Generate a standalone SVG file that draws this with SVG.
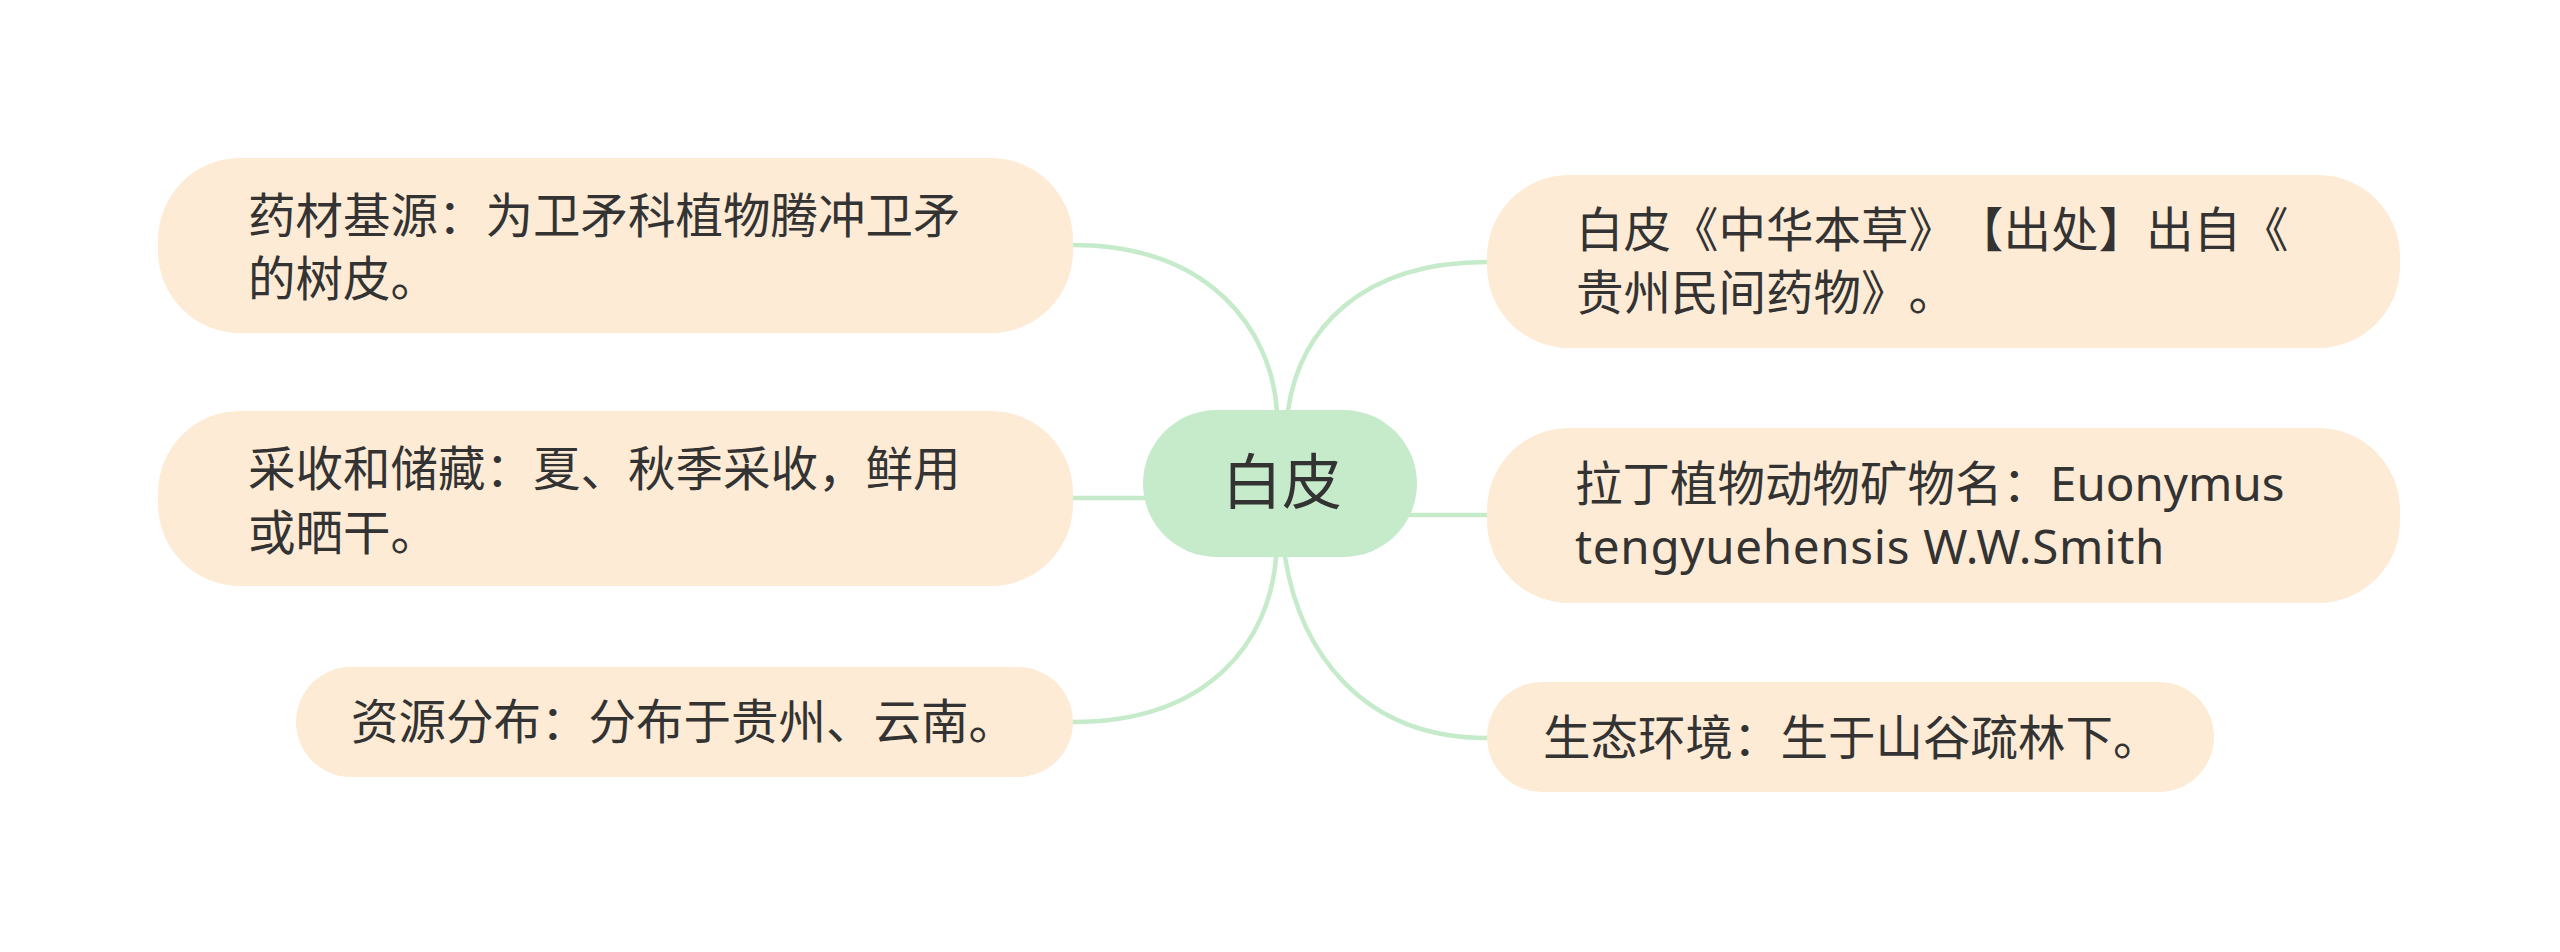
<svg xmlns="http://www.w3.org/2000/svg" width="2560" height="952" viewBox="0 0 2560 952">
<style>
.bg{fill:#ffffff}
.node rect{fill:#fdebd5}
.root rect{fill:#c6ebcb}
text{font-family:"Noto Sans","Noto Sans CJK SC",sans-serif;fill:#333333;text-spacing-trim:space-all;font-feature-settings:"halt" 0,"chws" 0}
.t{font-size:47.5px}
.rt{font-size:60px}
.conn path{fill:none;stroke:#c6ebcb;stroke-width:4.5;stroke-linecap:round}
</style>
<rect class="bg" x="0" y="0" width="2560" height="952"/>
<g id="connectors" class="conn">
<path d="M1277 430 L1277 412 C1272 330 1210 245 1073 245"/>
<path d="M1150 498 L1073 498"/>
<path d="M1276 540 L1276 557 C1270 640 1210 722 1073 722"/>
<path d="M1288 430 L1288 410 C1300 330 1360 262 1487 262"/>
<path d="M1410 515 L1487 515"/>
<path d="M1285 540 L1285 557 C1300 650 1360 738 1487 738"/>
</g>
<g id="root" class="root">
<rect x="1143" y="410" width="274" height="147" rx="73.5"/>
<text class="rt" x="1282" y="504" text-anchor="middle">白皮</text>
</g>
<g id="n1" class="node">
<rect x="158" y="158" width="915" height="175" rx="82"/>
<text class="t" x="248" y="233">药材基源：为卫矛科植物腾冲卫矛</text>
<text class="t" x="248" y="296">的树皮。</text>
</g>
<g id="n2" class="node">
<rect x="158" y="411" width="915" height="175" rx="82"/>
<text class="t" x="248" y="486">采收和储藏：夏、秋季采收，鲜用</text>
<text class="t" x="248" y="550">或晒干。</text>
</g>
<g id="n3" class="node">
<rect x="296" y="667" width="777" height="110" rx="55"/>
<text class="t" x="351" y="739">资源分布：分布于贵州、云南。</text>
</g>
<g id="r1" class="node">
<rect x="1487" y="175" width="913" height="173" rx="82"/>
<text class="t" x="1576" y="247">白皮《中华本草》【出处】出自《</text>
<text class="t" x="1576" y="310">贵州民间药物》。</text>
</g>
<g id="r2" class="node">
<rect x="1487" y="428" width="913" height="175" rx="82"/>
<text class="t" x="1575" y="501">拉丁植物动物矿物名：Euonymus</text>
<text class="t" x="1575" y="564" letter-spacing="0.7">tengyuehensis W.W.Smith</text>
</g>
<g id="r3" class="node">
<rect x="1487" y="682" width="727" height="110" rx="55"/>
<text class="t" x="1543" y="755">生态环境：生于山谷疏林下。</text>
</g>
</svg>
